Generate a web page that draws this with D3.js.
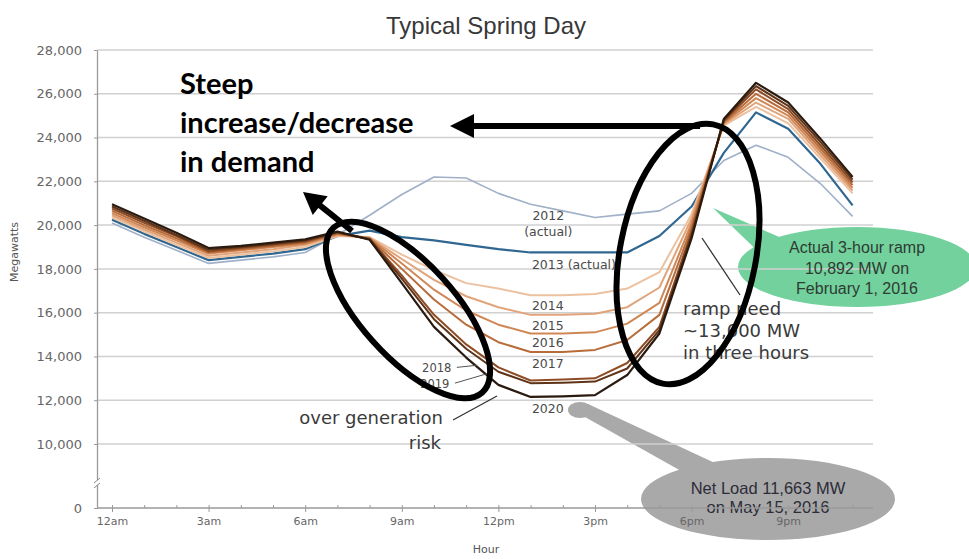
<!DOCTYPE html>
<html>
<head>
<meta charset="utf-8">
<script src="https://cdn.jsdelivr.net/npm/d3@7"></script>
<style>
  html, body { margin: 0; padding: 0; background: #fff; }
  svg { display: block; }
</style>
</head>
<body>
<svg id="chart" width="969" height="559"></svg>
<script>
// ---- data: net load (MW) by hour on a typical spring day ----
const hours = [0, 1, 2, 3, 4, 5, 6, 7, 8, 9, 10, 11, 12, 13, 14, 15, 16, 17, 18, 19, 20, 21, 22, 23];
const xTickHours = [0, 3, 6, 9, 12, 15, 18, 21];
const xTickLabels = ["12am", "3am", "6am", "9am", "12pm", "3pm", "6pm", "9pm"];
const yTickValues = [0, 10000, 12000, 14000, 16000, 18000, 20000, 22000, 24000, 26000, 28000];

const load2012 = [20100, 19450, 18850, 18250, 18400, 18550, 18750, 19550, 20450, 21400, 22200, 22150, 21450, 20950, 20650, 20350, 20500, 20650, 21450, 22950, 23650, 23100, 21900, 20400];
const load2013 = [20250, 19600, 19000, 18400, 18550, 18700, 18900, 19500, 19750, 19450, 19300, 19100, 18900, 18750, 18750, 18750, 18750, 19500, 20850, 23300, 25150, 24400, 22800, 20900];
const load2014 = [20350, 19700, 19100, 18500, 18650, 18800, 19000, 19500, 19450, 18650, 17950, 17350, 17100, 16800, 16800, 16850, 17100, 17850, 20500, 24550, 25400, 24650, 23050, 21450];
const load2015 = [20450, 19800, 19200, 18600, 18750, 18900, 19100, 19550, 19430, 18450, 17500, 16750, 16250, 15900, 15900, 15950, 16250, 17150, 20300, 24600, 25600, 24850, 23200, 21580];
const load2016 = [20550, 19900, 19300, 18700, 18850, 19000, 19150, 19580, 19410, 18250, 17050, 16100, 15450, 15050, 15050, 15100, 15500, 16450, 20100, 24650, 25800, 25000, 23350, 21700];
const load2017 = [20650, 20000, 19400, 18750, 18900, 19050, 19200, 19620, 19390, 18000, 16600, 15450, 14650, 14200, 14200, 14300, 14750, 15900, 19900, 24700, 26000, 25150, 23500, 21830];
const load2018 = [20750, 20100, 19500, 18800, 18950, 19100, 19250, 19650, 19370, 17700, 15900, 14550, 13500, 12900, 12950, 13000, 13700, 15350, 19700, 24750, 26200, 25300, 23650, 21950];
const load2019 = [20850, 20200, 19550, 18870, 19000, 19150, 19300, 19680, 19350, 17550, 15700, 14350, 13300, 12780, 12800, 12850, 13450, 15200, 19550, 24800, 26350, 25450, 23800, 22080];
const load2020 = [20950, 20300, 19650, 18950, 19050, 19200, 19350, 19700, 19330, 17350, 15350, 13950, 12700, 12150, 12180, 12230, 13150, 15050, 19400, 24850, 26500, 25600, 23950, 22200];

const seriesNames = ["2012", "2013", "2014", "2015", "2016", "2017", "2018", "2019", "2020"];
const seriesValues = [load2012, load2013, load2014, load2015, load2016, load2017, load2018, load2019, load2020];

// ---- styling ----
const seriesColor = {
  "2012": "#9fb0c8", "2013": "#2f6790",
  "2014": "#ecc1a0", "2015": "#e1a47a", "2016": "#d08756", "2017": "#b86c3a",
  "2018": "#8e4c24", "2019": "#5f3318", "2020": "#2a1a10"
};
const seriesWidth = {
  "2012": 1.6, "2013": 2.2, "2014": 2, "2015": 2, "2016": 2, "2017": 2, "2018": 2, "2019": 2, "2020": 2.2
};

const svg = d3.select("#chart");
const plotLeft = 97, plotRight = 873, axisY = 508;

const x = d3.scaleLinear().domain([0, 23]).range([112, 852.6]);
// broken value axis: 0 .. 10,000 compressed, 10,000 .. 28,000 full scale
const y = d3.scaleLinear().domain([0, 10000, 28000]).range([axisY, 444, 50]);

const tickFont = "'DejaVu Sans', Verdana, sans-serif";
const noteFont = "'DejaVu Sans', Verdana, sans-serif";

// title
svg.append("text")
  .attr("x", 486).attr("y", 34)
  .attr("text-anchor", "middle")
  .attr("font-family", "'Liberation Sans', Arial, sans-serif")
  .attr("font-size", 24)
  .attr("fill", "#383838")
  .text("Typical Spring Day");

// ---- callout bubbles (shapes sit under the grid) ----
const callouts = svg.append("g");
callouts.append("path")
  .attr("d", "M713,208L800,246L770,263Z")
  .attr("fill", "#72d19c");
callouts.append("ellipse")
  .attr("cx", 857).attr("cy", 267).attr("rx", 119).attr("ry", 40)
  .attr("fill", "#72d19c");

callouts.append("ellipse")
  .attr("cx", 580).attr("cy", 410).attr("rx", 12).attr("ry", 8)
  .attr("fill", "#a9a9a9");
callouts.append("path")
  .attr("d", "M588,404L730,470L690,476L585,417Z")
  .attr("fill", "#a9a9a9");
callouts.append("ellipse")
  .attr("cx", 768).attr("cy", 499).attr("rx", 127).attr("ry", 41)
  .attr("fill", "#a9a9a9");

// ---- gridlines ----
svg.append("g")
  .selectAll("line")
  .data(yTickValues.filter(v => v > 0))
  .join("line")
  .attr("x1", plotLeft).attr("x2", plotRight)
  .attr("y1", d => y(d)).attr("y2", d => y(d))
  .attr("stroke", "#d0d0d0")
  .attr("stroke-width", 1.5);

// ---- series lines ----
const line = d3.line()
  .x((d, i) => x(hours[i]))
  .y(d => y(d));

svg.append("g")
  .selectAll("path")
  .data(seriesNames.map((name, i) => ({ name, values: seriesValues[i] })))
  .join("path")
  .attr("d", d => line(d.values))
  .attr("fill", "none")
  .attr("stroke", d => seriesColor[d.name])
  .attr("stroke-width", d => seriesWidth[d.name])
  .attr("stroke-linejoin", "round");

// ---- year labels placed in data space ----
const yearLabels = [
  { text: "2012", h: 13.55, v: 20230, anchor: "middle" },
  { text: "(actual)", h: 13.55, v: 19500, anchor: "middle" },
  { text: "2013 (actual)", h: 13.04, v: 18000, anchor: "start" },
  { text: "2014", h: 13.04, v: 16120, anchor: "start" },
  { text: "2015", h: 13.04, v: 15210, anchor: "start" },
  { text: "2016", h: 13.04, v: 14430, anchor: "start" },
  { text: "2017", h: 13.04, v: 13470, anchor: "start" },
  { text: "2020", h: 13.04, v: 11420, anchor: "start" },
  { text: "2018", h: 9.63, v: 13280, anchor: "start" },
  { text: "2019", h: 9.57, v: 12560, anchor: "start" }
];
svg.append("g")
  .selectAll("text")
  .data(yearLabels)
  .join("text")
  .attr("x", d => x(d.h)).attr("y", d => y(d.v))
  .attr("text-anchor", d => d.anchor)
  .attr("font-family", noteFont)
  .attr("font-size", d => d.text === "2018" || d.text === "2019" ? 11.5 : 12.5)
  .attr("fill", "#4a4a4a")
  .text(d => d.text);

const labelLeaders = [
  { h1: 10.71, v1: 13500, h2: 11.34, v2: 13600 },
  { h1: 10.65, v1: 12780, h2: 11.83, v2: 13290 }
];
svg.append("g")
  .selectAll("line")
  .data(labelLeaders)
  .join("line")
  .attr("x1", d => x(d.h1)).attr("y1", d => y(d.v1))
  .attr("x2", d => x(d.h2)).attr("y2", d => y(d.v2))
  .attr("stroke", "#555").attr("stroke-width", 1);

// ---- callout texts ----
const greenText = ["Actual 3-hour ramp", "10,892 MW on", "February 1, 2016"];
svg.append("g")
  .selectAll("text")
  .data(greenText)
  .join("text")
  .attr("x", 857).attr("y", (d, i) => 253 + i * 20.5)
  .attr("text-anchor", "middle")
  .attr("font-family", "'Liberation Sans', Arial, sans-serif")
  .attr("font-size", 16)
  .attr("fill", "#2f3b33")
  .text(d => d);

const greyText = ["Net Load 11,663 MW", "on May 15, 2016"];
svg.append("g")
  .selectAll("text")
  .data(greyText)
  .join("text")
  .attr("x", 768).attr("y", (d, i) => 494 + i * 19)
  .attr("text-anchor", "middle")
  .attr("font-family", "'Liberation Sans', Arial, sans-serif")
  .attr("font-size", 16.5)
  .attr("fill", "#2c2c38")
  .text(d => d);

// ---- axes ----
const yAxis = d3.axisLeft(y)
  .tickValues(yTickValues)
  .tickFormat(d3.format(","))
  .tickSizeInner(3)
  .tickSizeOuter(0)
  .tickPadding(12);
const gy = svg.append("g").attr("transform", `translate(${plotLeft},0)`).call(yAxis);
gy.select(".domain").attr("stroke", "#9a9a9a").attr("stroke-width", 1.3);
gy.selectAll(".tick line").attr("stroke", "#9a9a9a");
gy.selectAll(".tick text")
  .attr("font-family", tickFont).attr("font-size", 13).attr("fill", "#666");

// axis break between 0 and 10,000
svg.append("rect").attr("x", plotLeft - 3).attr("y", 480).attr("width", 6).attr("height", 5).attr("fill", "#fff");
svg.append("path").attr("d", `M${plotLeft - 3},483L${plotLeft + 3},478M${plotLeft - 3},488L${plotLeft + 3},483`)
  .attr("stroke", "#888").attr("stroke-width", 1).attr("fill", "none");

// hour axis
svg.append("line")
  .attr("x1", plotLeft).attr("x2", plotRight)
  .attr("y1", axisY).attr("y2", axisY)
  .attr("stroke", "#9a9a9a").attr("stroke-width", 1.5);
const xMinor = d3.axisBottom(x).tickValues(hours).tickFormat("").tickSizeInner(-3).tickSizeOuter(0);
const gxm = svg.append("g").attr("transform", `translate(0,${axisY})`).call(xMinor);
gxm.select(".domain").remove();
gxm.selectAll(".tick line").attr("stroke", "#9a9a9a");
const xMajor = d3.axisBottom(x).tickValues(xTickHours)
  .tickFormat((d, i) => xTickLabels[i]).tickSizeInner(4).tickSizeOuter(0).tickPadding(5);
const gx = svg.append("g").attr("transform", `translate(0,${axisY})`).call(xMajor);
gx.select(".domain").remove();
gx.selectAll(".tick line").attr("stroke", "#9a9a9a");
gx.selectAll(".tick text")
  .attr("font-family", tickFont).attr("font-size", 11).attr("fill", "#666");

svg.append("text")
  .attr("x", 486).attr("y", 553)
  .attr("text-anchor", "middle")
  .attr("font-family", tickFont).attr("font-size", 11).attr("fill", "#555")
  .text("Hour");
svg.append("text")
  .attr("transform", "translate(18,252) rotate(-90)")
  .attr("text-anchor", "middle")
  .attr("font-family", tickFont).attr("font-size", 11).attr("fill", "#555")
  .text("Megawatts");

// ---- plot notes ----
const notes = svg.append("g")
  .attr("font-family", noteFont).attr("font-size", 18).attr("fill", "#3a3a3a");
notes.append("text").attr("x", 443).attr("y", 424).attr("text-anchor", "end").text("over generation");
notes.append("text").attr("x", 441).attr("y", 449).attr("text-anchor", "end").text("risk");
svg.append("line").attr("x1", 453).attr("y1", 420).attr("x2", 497).attr("y2", 396)
  .attr("stroke", "#333").attr("stroke-width", 1.3);

["ramp need", "~13,000 MW", "in three hours"].forEach((t, i) => {
  notes.append("text").attr("x", 683).attr("y", 315 + i * 22).text(t);
});
svg.append("line").attr("x1", 702).attr("y1", 238).attr("x2", 740).attr("y2", 295)
  .attr("stroke", "#333").attr("stroke-width", 1.3);

// ---- hand-drawn emphasis: ellipses and arrows ----
const ink = svg.append("g");
ink.append("ellipse")
  .attr("transform", "translate(408,310) rotate(48)")
  .attr("rx", 111).attr("ry", 47)
  .attr("fill", "none").attr("stroke", "#000").attr("stroke-width", 6);
ink.append("ellipse")
  .attr("transform", "translate(688,254) rotate(11)")
  .attr("rx", 68).attr("ry", 132)
  .attr("fill", "none").attr("stroke", "#000").attr("stroke-width", 6);

function arrow(g, x1, y1, x2, y2, headLen, headHalf, width) {
  const dx = x2 - x1, dy = y2 - y1, L = Math.hypot(dx, dy);
  const ux = dx / L, uy = dy / L;
  const bx = x2 - ux * headLen, by = y2 - uy * headLen;
  g.append("line")
    .attr("x1", x1).attr("y1", y1).attr("x2", bx + ux * 2).attr("y2", by + uy * 2)
    .attr("stroke", "#000").attr("stroke-width", width);
  g.append("path")
    .attr("d", `M${x2},${y2}L${bx - uy * headHalf},${by + ux * headHalf}L${bx + uy * headHalf},${by - ux * headHalf}Z`)
    .attr("fill", "#000");
}
arrow(ink, 700, 126, 450, 126, 24, 12, 6);
arrow(ink, 352, 231, 303, 192, 22, 12, 6);

const bold = svg.append("g")
  .attr("font-family", "Lato, 'Open Sans', sans-serif")
  .attr("font-weight", 700).attr("font-size", 29).attr("fill", "#000");
["Steep", "increase/decrease", "in demand"].forEach((t, i) => {
  bold.append("text").attr("x", 180).attr("y", [94, 133, 172][i]).text(t);
});
</script>
</body>
</html>
